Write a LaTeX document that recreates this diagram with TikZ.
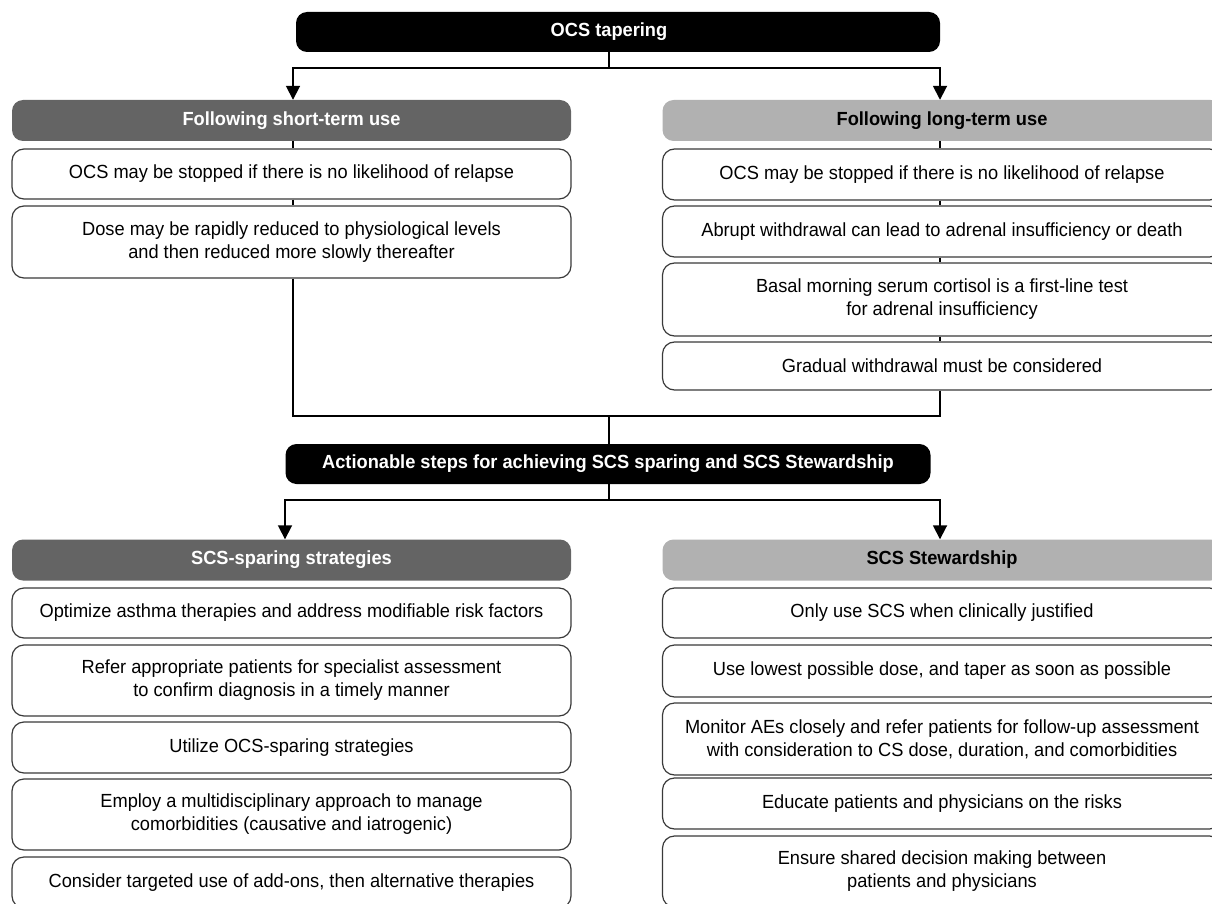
\documentclass[tikz,border=0pt]{standalone}
\usepackage{fontspec}
\setmainfont{Liberation Sans}[FakeStretch=0.96]
\usetikzlibrary{arrows.meta, positioning}
\definecolor{hdDark}{HTML}{646464}
\definecolor{hdLight}{HTML}{B1B1B1}
\definecolor{boxEdge}{HTML}{3A3A3A}
\tikzset{
  txt/.style       = {font=\fontsize{19}{23}\selectfont, align=center, inner sep=0pt},
  titlebox/.style  = {txt, font=\fontsize{19}{23}\selectfont\bfseries, fill=black,
                      text=white, rounded corners=11pt, minimum height=40pt},
  darkhead/.style  = {txt, font=\fontsize{19}{23}\selectfont\bfseries, fill=hdDark,
                      text=white, rounded corners=11pt, minimum width=559pt, minimum height=41pt},
  lighthead/.style = {darkhead, fill=hdLight, text=black},
  item/.style      = {txt, draw=boxEdge, line width=1.2pt, fill=white,
                      rounded corners=12pt, minimum width=559pt},
  link/.style      = {line width=1.8pt, black},
  arrowline/.style = {link, -{Triangle[length=14pt, width=14pt]}},
}

\begin{document}
\begin{tikzpicture}[x=1pt, y=-1pt]
\useasboundingbox (0,0) rectangle (1212,904);

% tapering part
\node[titlebox, minimum width=644pt] (ocs) at (618,32) {OCS tapering\hspace*{18pt}};
\coordinate (fork1) at (609,68);

\node[darkhead] (shortH) at (291.5,120.5) {Following short-term use};
\node[item, minimum height=50pt] (short1) at (291.5,174)
  {OCS may be stopped if there is no likelihood of relapse};
\node[item, minimum height=72pt] (short2) at (291.5,242)
  {Dose may be rapidly reduced to physiological levels\\and then reduced more slowly thereafter};

\node[lighthead] (longH) at (942,120.5) {Following long-term use};
\node[item, minimum height=51pt] (long1) at (942,174.5)
  {OCS may be stopped if there is no likelihood of relapse};
\node[item, minimum height=51pt] (long2) at (942,231.5)
  {Abrupt withdrawal can lead to adrenal insufficiency or death};
\node[item, minimum height=73pt] (long3) at (942,299.5)
  {Basal morning serum cortisol is a first-line test\\for adrenal insufficiency};
\node[item, minimum height=48pt] (long4) at (942,366)
  {Gradual withdrawal must be considered};

\draw[link] (ocs.south -| fork1) -- (fork1);
\draw[arrowline] (fork1) -| ([xshift=1.5pt]shortH.north);
\draw[arrowline] (fork1) -| ([xshift=-2pt]longH.north);
\draw[link] ([xshift=1.5pt]shortH.south) -- ([xshift=1.5pt]short1.north);
\draw[link] ([xshift=1.5pt]short1.south) -- ([xshift=1.5pt]short2.north);
\draw[link] ([xshift=-2pt]longH.south) -- ([xshift=-2pt]long1.north);
\draw[link] ([xshift=-2pt]long1.south) -- ([xshift=-2pt]long2.north);
\draw[link] ([xshift=-2pt]long2.south) -- ([xshift=-2pt]long3.north);
\draw[link] ([xshift=-2pt]long3.south) -- ([xshift=-2pt]long4.north);

% joining the two columns
\coordinate (join) at (609,416);
\draw[link] ([xshift=1.5pt]short2.south) |- (join);
\draw[link] ([xshift=-2pt]long4.south) |- (join);

% actionable steps part
\node[titlebox, minimum width=645pt] (act) at (608,464)
  {Actionable steps for achieving SCS sparing and SCS Stewardship};
\draw[link] (join) -- (act.north -| join);
\coordinate (fork2) at (609,500);
\draw[link] (act.south -| fork2) -- (fork2);

\node[darkhead] (spareH) at (291.5,560) {SCS-sparing strategies};
\node[item, minimum height=50pt] (spare1) at (291.5,613)
  {Optimize asthma therapies and address modifiable risk factors};
\node[item, minimum height=71pt] (spare2) at (291.5,680.5)
  {Refer appropriate patients for specialist assessment\\to confirm diagnosis in a timely manner};
\node[item, minimum height=51pt] (spare3) at (291.5,747.5)
  {Utilize OCS-sparing strategies};
\node[item, minimum height=71pt] (spare4) at (291.5,814.5)
  {Employ a multidisciplinary approach to manage\\comorbidities (causative and iatrogenic)};
\node[item, minimum height=51pt] (spare5) at (291.5,882.5)
  {Consider targeted use of add-ons, then alternative therapies};

\node[lighthead] (stewH) at (942,560) {SCS Stewardship};
\node[item, minimum height=50pt] (stew1) at (942,613)
  {Only use SCS when clinically justified};
\node[item, minimum height=52pt] (stew2) at (942,671)
  {Use lowest possible dose, and taper as soon as possible};
\node[item, minimum height=72pt] (stew3) at (942,739)
  {Monitor AEs closely and refer patients for follow-up assessment\\with consideration to CS dose, duration, and comorbidities};
\node[item, minimum height=51pt] (stew4) at (942,803.5)
  {Educate patients and physicians on the risks};
\node[item, minimum height=71pt] (stew5) at (942,871.5)
  {Ensure shared decision making between\\patients and physicians};

\draw[arrowline] (fork2) -| ([xshift=-6.5pt]spareH.north);
\draw[arrowline] (fork2) -| ([xshift=-2pt]stewH.north);
\end{tikzpicture}
\end{document}
